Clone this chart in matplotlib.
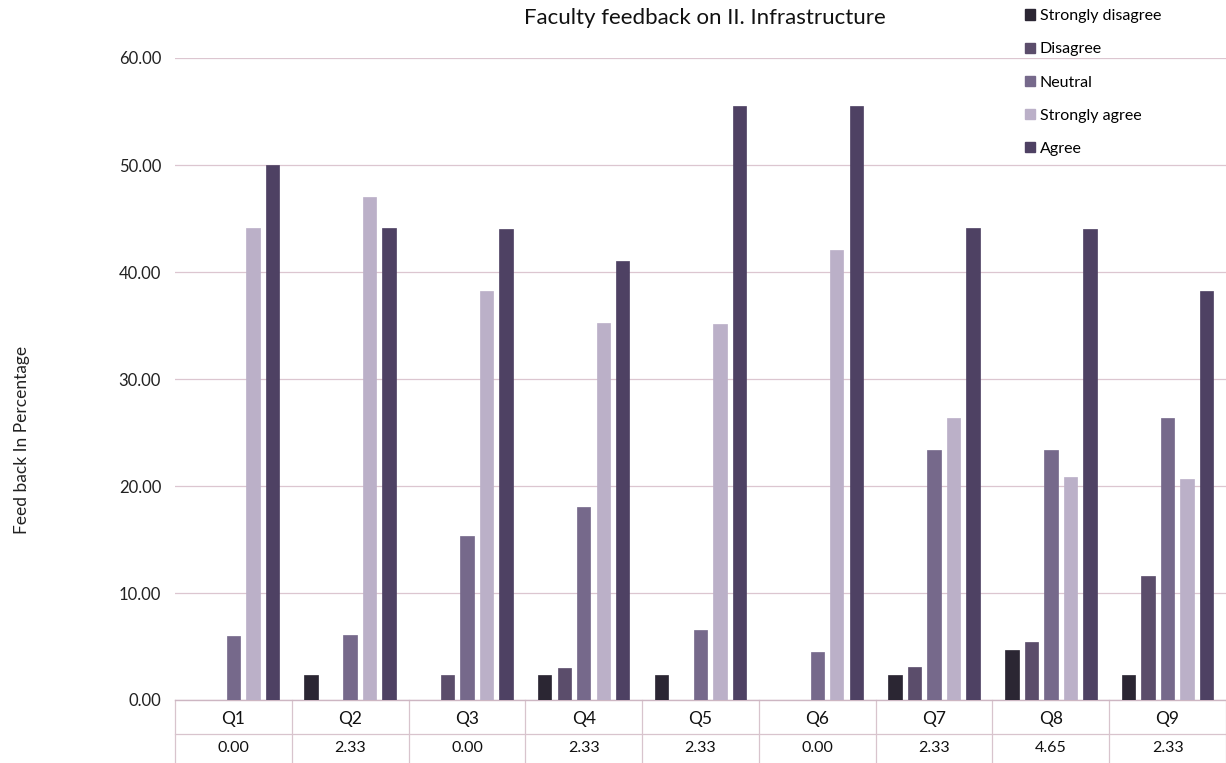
import matplotlib
matplotlib.use("Agg")
import matplotlib.pyplot as plt
import numpy as np
from matplotlib.patches import Patch

plt.rcParams['font.family'] = ['Lato', 'DejaVu Sans']

categories = ["Q1", "Q2", "Q3", "Q4", "Q5", "Q6", "Q7", "Q8", "Q9"]
series_names = ["Strongly disagree", "Disagree", "Neutral", "Strongly agree", "Agree"]
strongly_disagree = [0.00, 2.33, 0.00, 2.33, 2.33, 0.00, 2.33, 4.65, 2.33]
disagree = [0.00, 0.00, 2.33, 3.00, 0.00, 0.00, 3.10, 5.40, 11.63]
neutral = [6.00, 6.10, 15.30, 18.00, 6.50, 4.50, 23.40, 23.40, 26.40]
strongly_agree = [44.10, 47.00, 38.20, 35.20, 35.10, 42.10, 26.40, 20.80, 20.70]
agree = [50.00, 44.10, 44.00, 41.00, 55.50, 55.50, 44.10, 44.00, 38.20]
yticks = [0, 10, 20, 30, 40, 50, 60]

series = [strongly_disagree, disagree, neutral, strongly_agree, agree]
colors = ["#2b2633", "#5b4d6b", "#76698b", "#bbb0c8", "#4e4163"]

W, H = 1226, 763
fig = plt.figure(figsize=(W / 100, H / 100), dpi=100)
ax_left, ax_right = 175, 1226
ax_top, ax_bot = 58, 700
ax = fig.add_axes([ax_left / W, 1 - ax_bot / H, (ax_right - ax_left) / W, (ax_bot - ax_top) / H])

x = np.arange(len(categories))
pitch = 0.167
width = 0.115
for i, (vals, c) in enumerate(zip(series, colors)):
    ax.bar(x + (i - 2) * pitch, vals, width=width, color=c, edgecolor=c, linewidth=0.5,
           label=series_names[i], zorder=3)

ax.set_xlim(-0.5, len(categories) - 0.5)
ax.set_ylim(0, 60)
ax.set_yticks(yticks)
ax.set_yticklabels([f"{v:.2f}" for v in yticks], fontsize=12, color="#222222")
ax.tick_params(axis='y', length=0, pad=10)
ax.set_xticks([])
ax.grid(axis='y', color="#dcc6d0", linewidth=0.9, zorder=0)
for s in ["top", "right", "left"]:
    ax.spines[s].set_visible(False)
ax.spines["bottom"].set_color("#cdb6c2")
ax.spines["bottom"].set_linewidth(1.0)

# Data table below the chart (Excel style)
hpx = ax_bot - ax_top
trans = ax.get_xaxis_transform()
row1_y = -19 / hpx    # category row
line_y = -34 / hpx
row2_y = -48 / hpx    # first value row
bottom_y = -66 / hpx
for k in range(len(categories) + 1):
    ax.plot([k - 0.5, k - 0.5], [0, bottom_y], transform=trans, color="#d8c4cd",
            linewidth=0.9, clip_on=False)
ax.plot([-0.5, len(categories) - 0.5], [line_y, line_y], transform=trans, color="#d8c4cd",
        linewidth=0.9, clip_on=False)
for k, cat in enumerate(categories):
    ax.text(k, row1_y, cat, transform=trans, ha='center', va='center', fontsize=12.5,
            color="#111111", clip_on=False)
    ax.text(k, row2_y, f"{strongly_disagree[k]:.2f}", transform=trans, ha='center', va='center',
            fontsize=11.5, color="#111111", clip_on=False)

fig.text(0.575, 1 - 18 / H, "Faculty feedback on II. Infrastructure", ha='center', va='center',
         fontsize=16, color="#111111")
fig.text(22 / W, 1 - 440 / H, "Feed back In Percentage", rotation=90, ha='center', va='center',
         fontsize=12.5, color="#222222")

handles = [Patch(facecolor=c, edgecolor=c) for c in colors]
fig.legend(handles, series_names, loc='upper left', bbox_to_anchor=(1022 / W, 1 - 6 / H),
           bbox_transform=fig.transFigure, frameon=False, fontsize=11.5,
           handlelength=0.6, handleheight=0.6, handletextpad=0.3, labelspacing=1.2,
           borderaxespad=0, borderpad=0.2)

fig.savefig("out.png", dpi=100)
